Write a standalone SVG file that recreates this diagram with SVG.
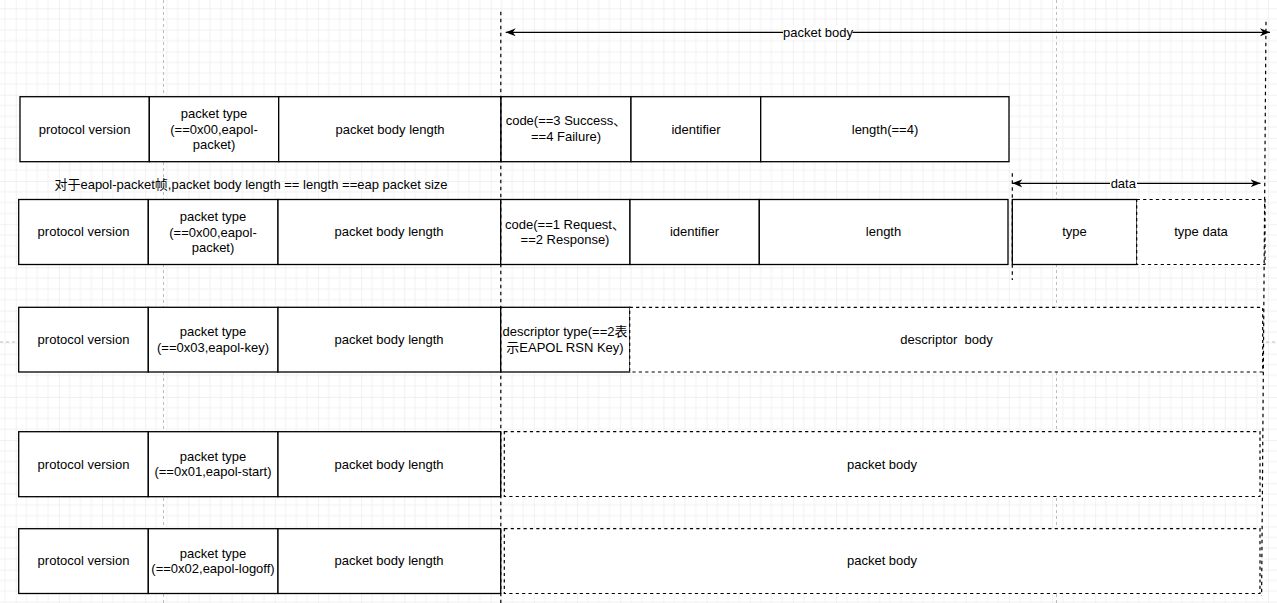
<svg xmlns="http://www.w3.org/2000/svg" width="1277" height="603" viewBox="0 0 1277 603">
  <defs>
    <!-- background grid: minor every ~10.8px, major every 4 minor -->
    <pattern id="grid" patternUnits="userSpaceOnUse" x="15.7" y="8.3" width="43.18" height="43.18">
      <path d="M10.8,0 V43.18 M21.6,0 V43.18 M32.4,0 V43.18 M0,10.8 H43.18 M0,21.6 H43.18 M0,32.4 H43.18" stroke="#f2f2f2" stroke-width="1" fill="none"/>
      <path d="M0,0 V43.18 M0,0 H43.18" stroke="#e3e3e3" stroke-width="1" fill="none"/>
    </pattern>
    <marker id="arrow" viewBox="0 0 10 10" refX="10" refY="5" markerWidth="10" markerHeight="10" markerUnits="userSpaceOnUse" orient="auto-start-reverse">
      <path d="M10,5 L0,1 L3,5 L0,9 Z" fill="#000"/>
    </marker>
    <style>
      .cell { fill: #fff; stroke: #000; stroke-width: 1.3; }
      .dash { fill: #fff; stroke: #000; stroke-width: 1.2; stroke-dasharray: 3.2 3.2; }
      .lbl { font-family: "Liberation Sans", Arial, "Noto Sans CJK SC", sans-serif; font-size: 13px; fill: #000; text-anchor: middle; }
      .guide { fill: none; stroke: #000; stroke-width: 1.2; stroke-dasharray: 3.5 3.5; }
      .pagebreak { fill: none; stroke: #bdbdbd; stroke-width: 1; stroke-dasharray: 3 3; }
      .dim { fill: none; stroke: #000; stroke-width: 1.2; marker-start: url(#arrow); marker-end: url(#arrow); }
    </style>
  </defs>

  <rect x="0" y="0" width="1277" height="603" fill="#fff"/>
  <rect x="0" y="0" width="1277" height="603" fill="url(#grid)"/>

  <!-- page boundaries -->
  <g id="page-breaks">
    <line class="pagebreak" x1="163.5" y1="0" x2="163.5" y2="603"/>
    <line class="pagebreak" x1="1056.5" y1="0" x2="1056.5" y2="603"/>
    <line class="pagebreak" x1="0" y1="342" x2="1277" y2="342"/>
  </g>

  <!-- EAPOL-Packet carrying EAP Success / Failure -->
  <g id="row-eap-result">
    <rect class="cell" x="20" y="96.7" width="129.3" height="65"/>
    <rect class="cell" x="149.3" y="96.7" width="129.4" height="65"/>
    <rect class="cell" x="278.7" y="96.7" width="222.3" height="65"/>
    <rect class="cell" x="501" y="96.7" width="130" height="65"/>
    <rect class="cell" x="631" y="96.7" width="129.7" height="65"/>
    <rect class="cell" x="760.7" y="96.7" width="248.3" height="65"/>
    <text class="lbl" x="84.6" y="133.5">protocol version</text>
    <text class="lbl" y="118.2"><tspan x="214" dy="0">packet type</tspan><tspan x="214" dy="15.6">(==0x00,eapol-</tspan><tspan x="214" dy="15.6">packet)</tspan></text>
    <text class="lbl" x="390" y="133.5">packet body length</text>
    <text class="lbl" y="125.4"><tspan x="566" dy="0">code(==3 Success、</tspan><tspan x="566" dy="15.6">==4 Failure)</tspan></text>
    <text class="lbl" x="696" y="133.5">identifier</text>
    <text class="lbl" x="885" y="133.5">length(==4)</text>
  </g>

  <g id="note-length">
    <text class="lbl" x="251" y="188.5">对于eapol-packet帧,packet body length == length ==eap packet size</text>
  </g>

  <!-- EAPOL-Packet carrying EAP Request / Response -->
  <g id="row-eap-request">
    <rect class="cell" x="18.7" y="199.5" width="129.6" height="65"/>
    <rect class="cell" x="148.3" y="199.5" width="129.7" height="65"/>
    <rect class="cell" x="278" y="199.5" width="222.7" height="65"/>
    <rect class="cell" x="500.7" y="199.5" width="129.3" height="65"/>
    <rect class="cell" x="630" y="199.5" width="129.3" height="65"/>
    <rect class="cell" x="759.3" y="199.5" width="248.7" height="65"/>
    <rect class="cell" x="1012.3" y="199.5" width="124.4" height="65"/>
    <rect class="dash" x="1136.7" y="199.5" width="128.3" height="65"/>
    <text class="lbl" x="83.5" y="236.3">protocol version</text>
    <text class="lbl" y="221"><tspan x="213" dy="0">packet type</tspan><tspan x="213" dy="15.6">(==0x00,eapol-</tspan><tspan x="213" dy="15.6">packet)</tspan></text>
    <text class="lbl" x="389" y="236.3">packet body length</text>
    <text class="lbl" y="228.5"><tspan x="565" dy="0">code(==1 Request、</tspan><tspan x="565" dy="15.6">==2 Response)</tspan></text>
    <text class="lbl" x="694.5" y="236.3">identifier</text>
    <text class="lbl" x="883.5" y="236.3">length</text>
    <text class="lbl" x="1074.5" y="236.3">type</text>
    <text class="lbl" x="1201" y="236.3">type data</text>
  </g>

  <!-- EAPOL-Key -->
  <g id="row-eapol-key">
    <rect class="cell" x="18.7" y="307.3" width="129.6" height="64.7"/>
    <rect class="cell" x="148.3" y="307.3" width="129.7" height="64.7"/>
    <rect class="cell" x="278" y="307.3" width="222.7" height="64.7"/>
    <rect class="cell" x="500.7" y="307.3" width="129" height="64.7"/>
    <rect class="dash" x="629.7" y="307.3" width="633" height="64.7"/>
    <text class="lbl" x="83.5" y="344">protocol version</text>
    <text class="lbl" y="336.2"><tspan x="213" dy="0">packet type</tspan><tspan x="213" dy="15.6">(==0x03,eapol-key)</tspan></text>
    <text class="lbl" x="389" y="344">packet body length</text>
    <text class="lbl" y="336.2"><tspan x="565" dy="0">descriptor type(==2表</tspan><tspan x="565" dy="15.6">示EAPOL RSN Key)</tspan></text>
    <text class="lbl" x="946.5" y="344" xml:space="preserve">descriptor  body</text>
  </g>

  <!-- EAPOL-Start -->
  <g id="row-eapol-start">
    <rect class="cell" x="18.7" y="431.7" width="129.6" height="65"/>
    <rect class="cell" x="148.3" y="431.7" width="129.7" height="65"/>
    <rect class="cell" x="278" y="431.7" width="222.7" height="65"/>
    <rect class="dash" x="504.3" y="431.7" width="755.7" height="64.8"/>
    <text class="lbl" x="83.5" y="468.5">protocol version</text>
    <text class="lbl" y="460.7"><tspan x="213" dy="0">packet type</tspan><tspan x="213" dy="15.6">(==0x01,eapol-start)</tspan></text>
    <text class="lbl" x="389" y="468.5">packet body length</text>
    <text class="lbl" x="882" y="468.5">packet body</text>
  </g>

  <!-- EAPOL-Logoff -->
  <g id="row-eapol-logoff">
    <rect class="cell" x="18.7" y="528.7" width="129.6" height="64.8"/>
    <rect class="cell" x="148.3" y="528.7" width="129.7" height="64.8"/>
    <rect class="cell" x="278" y="528.7" width="222.7" height="64.8"/>
    <rect class="dash" x="504.3" y="528.7" width="755.7" height="64.8"/>
    <text class="lbl" x="83.5" y="565.4">protocol version</text>
    <text class="lbl" y="557.6"><tspan x="213" dy="0">packet type</tspan><tspan x="213" dy="15.6">(==0x02,eapol-logoff)</tspan></text>
    <text class="lbl" x="389" y="565.4">packet body length</text>
    <text class="lbl" x="882" y="565.4">packet body</text>
  </g>

  <!-- extent guides and dimension arrows -->
  <g id="connectors">
    <line class="guide" x1="500.8" y1="11.7" x2="500.8" y2="603"/>
    <line class="guide" x1="1266" y1="21.7" x2="1261.6" y2="596"/>
    <line class="guide" x1="1012.3" y1="173.3" x2="1012.3" y2="280"/>
    <line class="dim" x1="505.7" y1="32.3" x2="1270" y2="32.3"/>
    <rect x="783" y="25" width="69.5" height="15" fill="#fff"/>
    <text class="lbl" x="818" y="36.8">packet body</text>
    <line class="dim" x1="1012.3" y1="183.3" x2="1260.5" y2="183.3"/>
    <rect x="1110" y="176" width="27" height="15" fill="#fff"/>
    <text class="lbl" x="1123.3" y="187.8">data</text>
  </g>
</svg>
